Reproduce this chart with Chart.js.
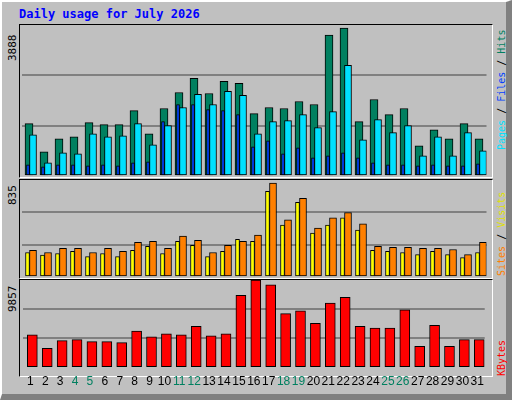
<!DOCTYPE html>
<html><head><meta charset="utf-8">
<script src="https://cdn.jsdelivr.net/npm/chart.js@4/dist/chart.umd.min.js"></script>
<style>
html,body{margin:0;padding:0;}
body{width:512px;height:400px;position:relative;background:#c0c0c0;overflow:hidden;font-family:"DejaVu Sans Mono",monospace;}
#frame{position:absolute;left:0;top:0;border-left:2px solid #fff;border-top:2px solid #fff;border-right:6px solid #808080;border-bottom:6px solid #808080;box-sizing:border-box;width:512px;height:400px;}
.panel{position:absolute;left:19px;width:472px;background:#c0c0c0;border-top:1px solid #000;border-left:1px solid #000;border-right:1px solid #fff;border-bottom:1px solid #fff;}
canvas.c{position:absolute;}
#title{position:absolute;left:19px;top:7px;color:#0000ff;font-weight:bold;font-size:12px;}
.vl{position:absolute;font-size:11px;white-space:nowrap;transform-origin:0 0;transform:rotate(-90deg);}
.vr{position:absolute;font-size:10px;white-space:nowrap;transform-origin:0 0;transform:rotate(-90deg);}
</style></head><body>
<div id="frame"></div>
<div id="title">Daily usage for July 2026</div>
<div class="panel" style="top:24px;height:152px"></div>
<div class="panel" style="top:179px;height:98px"></div>
<div class="panel" style="top:279px;height:96px"></div>
<div class="vl" style="left:6px;top:61px;color:#000">3888</div>
<div class="vl" style="left:6px;top:205px;color:#000">835</div>
<div class="vl" style="left:6px;top:312px;color:#000">9857</div>
<div class="vr" style="left:496px;top:150px"><span style="color:#00e0ff">Pages</span><span style="color:#000"> / </span><span style="color:#0040ff">Files</span><span style="color:#000"> / </span><span style="color:#008060">Hits</span></div>
<div class="vr" style="left:496px;top:276px"><span style="color:#ff8000">Sites</span><span style="color:#000"> / </span><span style="color:#e0e000">Visits</span></div>
<div class="vr" style="left:496px;top:376px;color:#ff0000">KBytes</div>
<canvas class="c" id="c1" style="left:20px;top:25px;width:471px;height:151px"></canvas>
<canvas class="c" id="c2" style="left:20px;top:180px;width:471px;height:97px"></canvas>
<canvas class="c" id="c3" style="left:20px;top:280px;width:471px;height:116px"></canvas>
<script>
const days = Array.from({length:31},(_,i)=>String(i+1));
const weekend = ['4','5','11','12','18','19','25','26'];
const hits  = [1348,622,959,1011,1374,1322,1322,1685,1089,1737,2151,2514,2125,2436,2385,1607,1763,1737,1918,1840,3629,3810,1400,1970,1581,1737,778,1192,959,1348,959];
const pages = [1063,337,596,570,1089,1011,1037,1348,804,1296,1763,2100,1840,2177,2074,1089,1400,1426,1581,1244,1659,2851,933,1452,1115,1296,518,1011,518,1115,648];
const files = [285,233,285,285,259,285,259,337,363,1400,1840,1840,1711,1685,1581,752,907,570,726,467,518,596,467,337,285,285,259,285,259,259,311];
const visits= [211,188,202,220,176,202,176,229,264,202,308,272,176,220,325,308,738,448,642,378,448,510,404,229,220,211,193,220,193,167,211];
const sites = [229,211,246,246,211,246,220,299,308,246,352,316,211,272,308,360,809,492,677,422,510,554,457,264,255,255,246,246,237,193,299];
const kbytes= [3682,2166,3032,3141,2924,2924,2816,4115,3466,3791,3682,4657,3574,3791,8123,9850,9314,6065,6390,4982,7256,7906,4657,4440,4440,6498,2383,4765,2383,3141,3141];
const maxes = [3888,835,9857];

const shiftPlugin={id:'shift',afterDatasetsUpdate(chart){
  chart.data.datasets.forEach((ds,i)=>{const m=chart.getDatasetMeta(i);
    m.data.forEach(el=>{el.x+= (ds.shift||0);});});}};
function ds(data,color,w,shift){return {data,backgroundColor:color,borderColor:'#000',borderWidth:1,borderSkipped:false,barThickness:w,shift,grouped:false,categoryPercentage:1,barPercentage:1};}
function make(id,datasets,max,showX){
  new Chart(document.getElementById(id),{type:'bar',data:{labels:days,datasets},
   plugins:[shiftPlugin],
   options:{animation:false,responsive:false,devicePixelRatio:1,events:[],
    layout:{padding:{left:1.5,right:4.5,top:0,bottom:0}},
    plugins:{legend:{display:false},tooltip:{enabled:false}},
    scales:{
     x:{display:showX,grid:{display:false,drawTicks:false},border:{display:false},
        ticks:{padding:7,color:c=>weekend.includes(days[c.index])?'#008060':'#000',font:{family:'Liberation Sans',size:12},maxRotation:0,autoSkip:false}},
     y:{display:true,min:0,max:max,ticks:{display:false,stepSize:max/3},border:{display:false},
        grid:{color:c=>(c.index===0||c.index===3)?'rgba(0,0,0,0)':'#808080',lineWidth:2,drawTicks:false}}
    }}});
}
function sizeCanvas(id){const c=document.getElementById(id);c.width=parseInt(c.style.width);c.height=parseInt(c.style.height);}
['c1','c2','c3'].forEach(sizeCanvas);
make('c1',[ds(pages,'#00e0ff',7,4),ds(files,'#0040ff',3,-1),ds(hits,'#008060',8,0)],maxes[0],false);
make('c2',[ds(sites,'#ff8000',7,4),ds(visits,'#ffff00',4,-1.5)],maxes[1],false);
make('c3',[ds(kbytes,'#ff0000',10,2)],maxes[2],true);
</script>
</body></html>
